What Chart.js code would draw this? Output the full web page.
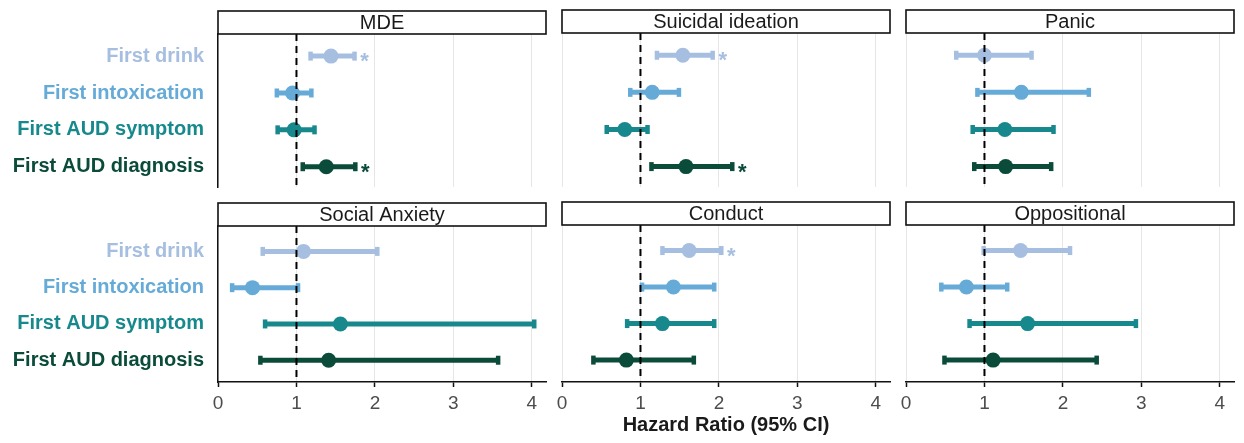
<!DOCTYPE html>
<html>
<head>
<meta charset="utf-8">
<script src="https://cdn.jsdelivr.net/npm/chart.js@4.4.0/dist/chart.umd.min.js"></script>
<style>
  body { margin: 0; background: #fff; width: 1244px; height: 443px; position: relative; overflow: hidden; }
  canvas { position: absolute; }
</style>
</head>
<body>
<script>
// facets, in reading order
const outcomes = ['MDE', 'Suicidal ideation', 'Panic', 'Social Anxiety', 'Conduct', 'Oppositional'];
const milestones = ['First drink', 'First intoxication', 'First AUD symptom', 'First AUD diagnosis'];
const milestoneColors = ['#a6bfe0', '#66abd8', '#17898d', '#0a4b3a'];

// hazard ratios per outcome, in milestone order
const hr = [
  [1.44, 0.95, 0.97, 1.38],
  [1.54, 1.15, 0.80, 1.58],
  [1.00, 1.47, 1.26, 1.27],
  [1.09, 0.44, 1.56, 1.41],
  [1.62, 1.42, 1.28, 0.82],
  [1.46, 0.77, 1.55, 1.11]
];
const ciLow = [
  [1.18, 0.75, 0.76, 1.08],
  [1.21, 0.87, 0.57, 1.14],
  [0.64, 0.91, 0.85, 0.87],
  [0.57, 0.18, 0.60, 0.54],
  [1.28, 1.02, 0.83, 0.40],
  [0.99, 0.45, 0.81, 0.49]
];
const ciHigh = [
  [1.74, 1.19, 1.23, 1.75],
  [1.92, 1.49, 1.09, 2.17],
  [1.60, 2.33, 1.88, 1.85],
  [2.03, 1.02, 4.03, 3.57],
  [2.03, 1.94, 1.94, 1.68],
  [2.09, 1.29, 2.93, 2.43]
];
const significant = [
  [1, 0, 0, 1],
  [1, 0, 0, 1],
  [0, 0, 0, 0],
  [0, 0, 0, 0],
  [1, 0, 0, 0],
  [0, 0, 0, 0]
];
const xTicks = [0, 1, 2, 3, 4];
const refLine = 1;

const FONT = '"Liberation Sans", Arial, Helvetica, sans-serif';

// panel geometry
const colLeft = [218, 562, 906];
const panelW = 328;
const PAD = 12;
const STRIP = 25;

const stripPlugin = {
  id: 'strip',
  afterDraw(chart) {
    const p = chart.options.plugins.strip.index;
    const { ctx, chartArea } = chart;
    const top = chartArea.top - 23;
    ctx.save();
    ctx.fillStyle = '#fff';
    ctx.strokeStyle = '#111';
    ctx.lineWidth = 1.6;
    ctx.fillRect(chartArea.left, top, chartArea.right - chartArea.left, 23);
    ctx.strokeRect(chartArea.left, top, chartArea.right - chartArea.left, 23);
    ctx.fillStyle = '#1a1a1a';
    ctx.font = '20px ' + FONT;
    ctx.textAlign = 'center';
    ctx.textBaseline = 'middle';
    ctx.fillText(outcomes[p], (chartArea.left + chartArea.right) / 2, top + 12);
    ctx.restore();
  }
};

const starPlugin = {
  id: 'stars',
  afterDatasetsDraw(chart) {
    const p = chart.options.plugins.strip.index;
    const { ctx } = chart;
    const xs = chart.scales.x, ys = chart.scales.y;
    ctx.save();
    ctx.font = 'bold 22px ' + FONT;
    ctx.textAlign = 'center';
    ctx.textBaseline = 'middle';
    significant[p].forEach((s, i) => {
      if (!s) return;
      ctx.fillStyle = milestoneColors[i];
      ctx.fillText('*', xs.getPixelForValue(ciHigh[p][i]) + 10, ys.getPixelForValue(i + 1) + 6);
    });
    ctx.restore();
  }
};

function makePanel(p) {
  const col = p % 3, row = Math.floor(p / 3);
  const leftCol = col === 0;
  const bottom = row === 1;

  const canvas = document.createElement('canvas');
  const left = leftCol ? 0 : colLeft[col] - PAD;
  const width = leftCol ? colLeft[0] + panelW + PAD : panelW + 2 * PAD;
  const top = bottom ? 200 : 8;
  const height = bottom ? STRIP + 157 + 61 : STRIP + 154 + 26;
  canvas.width = width;
  canvas.height = height;
  canvas.style.left = left + 'px';
  canvas.style.top = top + 'px';
  document.body.appendChild(canvas);

  const yMin = bottom ? 0.3 : 0.4;
  const yMax = bottom ? 4.6 : 4.55;

  const datasets = [];
  datasets.push({
    data: [{ x: refLine, y: yMin }, { x: refLine, y: yMax }],
    showLine: true,
    borderColor: '#000',
    borderWidth: 2,
    borderDash: [7, 5],
    pointRadius: 0,
    order: 0
  });
  datasets.push({
    data: hr[p].map((v, i) => ({ x: v, y: i + 1 })),
    pointRadius: 7.5,
    pointBackgroundColor: milestoneColors,
    pointBorderWidth: 0,
    order: 1
  });
  milestones.forEach((m, i) => {
    datasets.push({
      data: [{ x: ciLow[p][i], y: i + 1 }, { x: ciHigh[p][i], y: i + 1 }],
      showLine: true,
      borderColor: milestoneColors[i],
      borderWidth: 5,
      pointStyle: 'line',
      pointRotation: 90,
      pointRadius: 4.5,
      pointBorderWidth: 4.5,
      pointBorderColor: milestoneColors[i],
      order: 2
    });
  });

  new Chart(canvas, {
    type: 'scatter',
    data: { datasets },
    plugins: [stripPlugin, starPlugin],
    options: {
      responsive: false,
      animation: false,
      devicePixelRatio: 1,
      layout: {
        padding: { top: STRIP, left: leftCol ? 0 : PAD, right: PAD, bottom: bottom ? 0 : 26 }
      },
      plugins: {
        legend: { display: false },
        tooltip: { enabled: false },
        strip: { index: p }
      },
      scales: {
        x: {
          type: 'linear',
          min: 0,
          max: 4.18,
          afterBuildTicks: s => { s.ticks = xTicks.map(v => ({ value: v })); },
          afterFit: s => { s.height = bottom ? 61 : 0; },
          grid: {
            color: '#e6e6e6',
            lineWidth: 1,
            drawTicks: bottom,
            tickLength: 5,
            tickColor: '#111',
            tickWidth: 1.5
          },
          border: { display: bottom, color: '#111', width: 1.5 },
          ticks: {
            display: bottom,
            color: '#4d4d4d',
            font: { family: FONT, size: 19 },
            padding: 5,
            maxRotation: 0
          },
          title: {
            display: bottom && col === 1,
            text: 'Hazard Ratio (95% CI)',
            color: '#1a1a1a',
            font: { family: FONT, size: 20, weight: 'bold' },
            padding: { top: 0, bottom: 6 }
          }
        },
        y: {
          type: 'linear',
          reverse: true,
          min: yMin,
          max: yMax,
          display: leftCol,
          afterBuildTicks: s => { s.ticks = milestones.map((m, i) => ({ value: i + 1 })); },
          afterFit: s => { s.width = leftCol ? colLeft[0] : 0; },
          grid: { display: false, drawTicks: false },
          border: { display: true, color: '#111', width: 1.5 },
          ticks: {
            callback: v => milestones[v - 1],
            color: c => milestoneColors[c.tick.value - 1],
            font: { family: FONT, size: 20, weight: 'bold' },
            padding: 14
          }
        }
      }
    }
  });
}

outcomes.forEach((o, p) => makePanel(p));
</script>
</body>
</html>
